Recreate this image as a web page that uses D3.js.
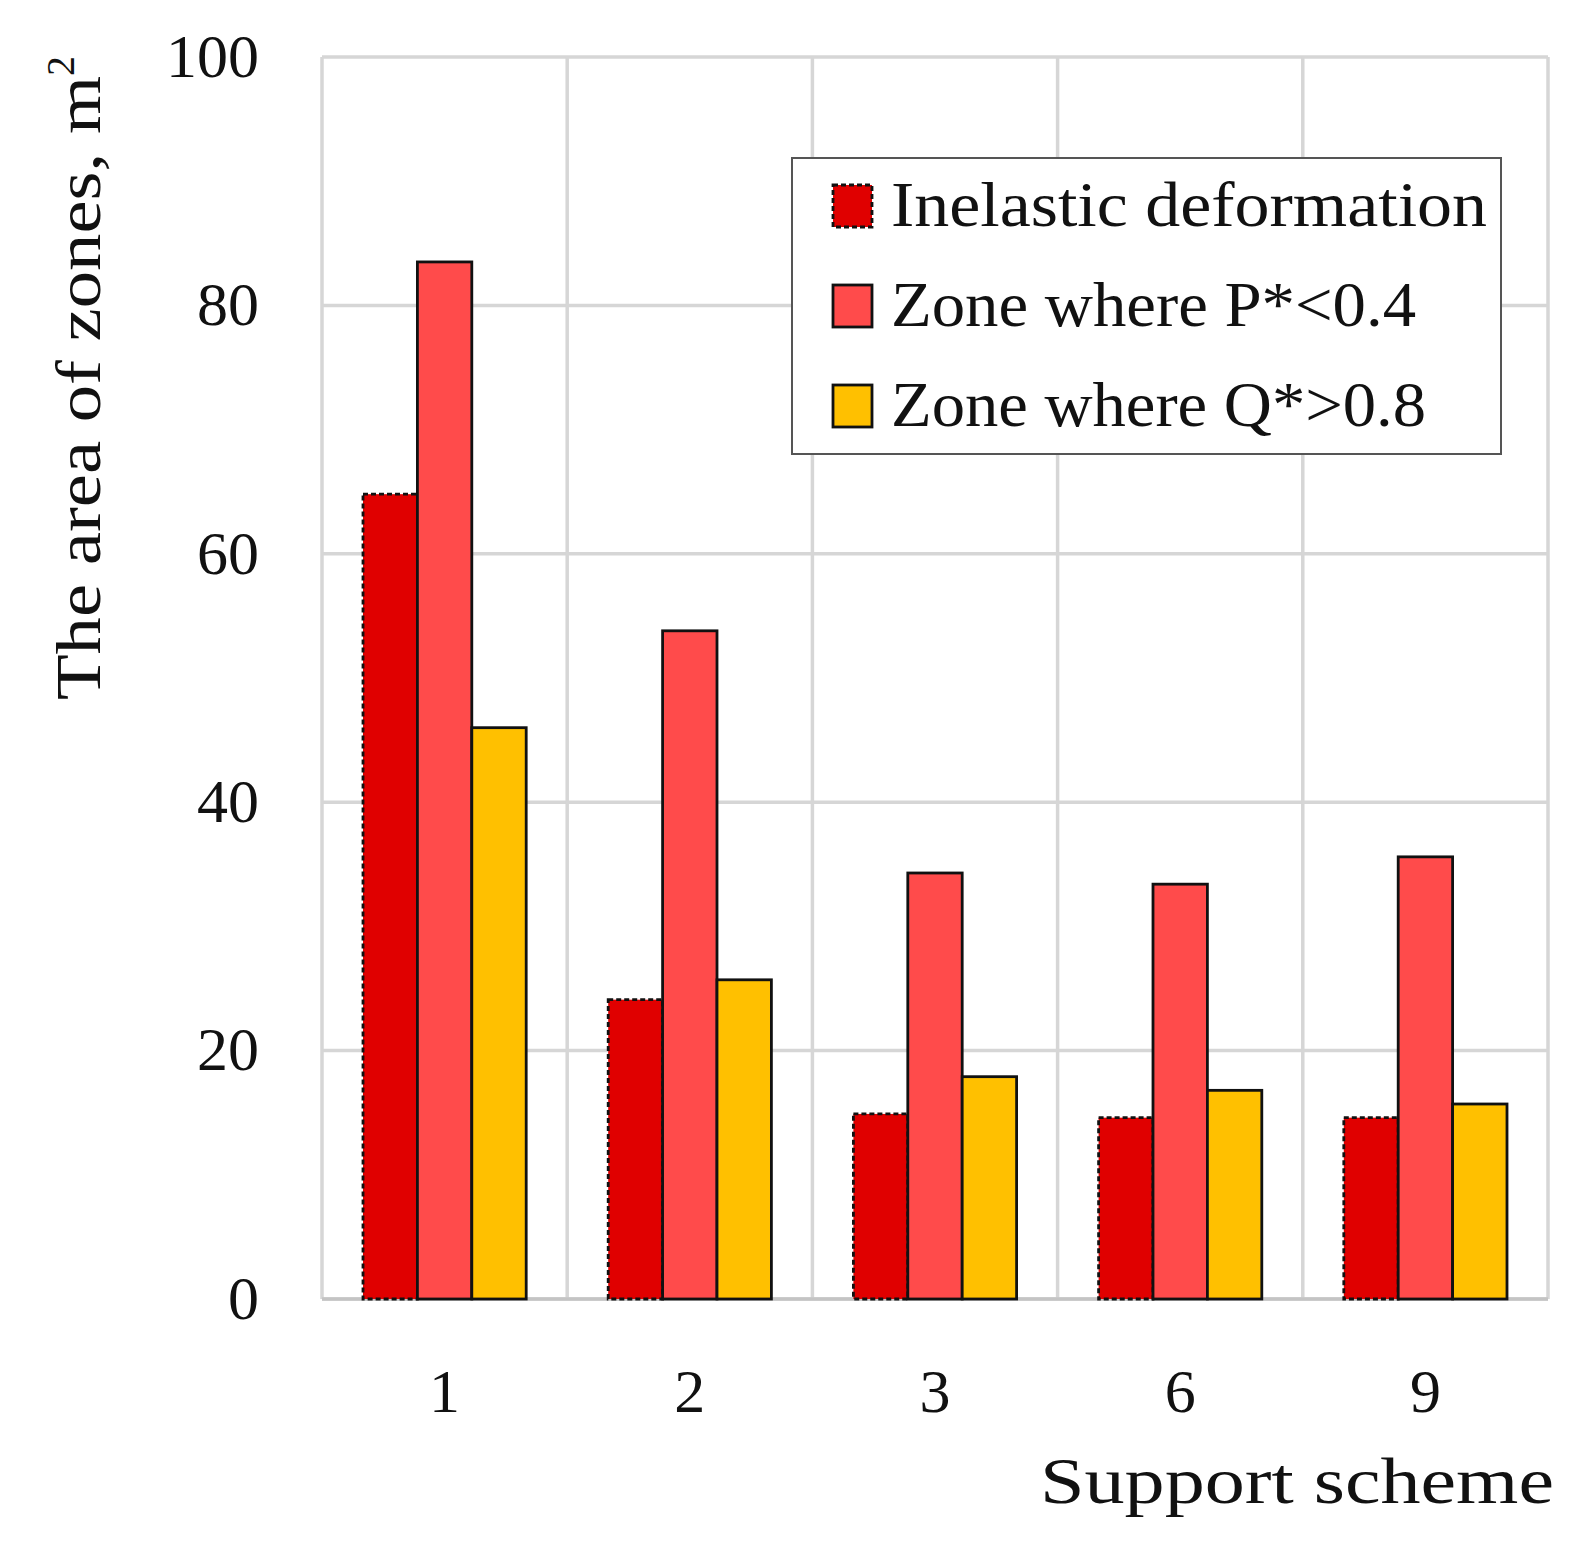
<!DOCTYPE html>
<html>
<head>
<meta charset="utf-8">
<script src="https://cdn.jsdelivr.net/npm/d3@7"></script>
<style>
  body { margin: 0; background: #fff; }
  svg text { font-family: "Liberation Serif", "DejaVu Serif", serif; fill: #111; }
</style>
</head>
<body>
<div id="chart"></div>
<script>
// ---- data ----
const schemes = ['1', '2', '3', '6', '9'];
const seriesNames = ['Inelastic deformation', 'Zone where P*<0.4', 'Zone where Q*>0.8'];
const inelastic = [64.8, 24.1, 14.9, 14.6, 14.6];
const zoneP = [83.5, 53.8, 34.3, 33.4, 35.6];
const zoneQ = [46.0, 25.7, 17.9, 16.8, 15.7];
const yTicks = [0, 20, 40, 60, 80, 100];

const seriesValues = [inelastic, zoneP, zoneQ];
const seriesColors = ['#e00000', '#ff4b4b', '#ffc000'];

// ---- layout ----
const W = 1595, H = 1555;
const plot = { left: 322, right: 1548, top: 57, bottom: 1299 };

const svg = d3.select('#chart').append('svg')
  .attr('width', W).attr('height', H);

const x = d3.scaleBand().domain(schemes).range([plot.left, plot.right]);
const x1 = d3.scaleBand().domain(d3.range(seriesNames.length))
  .range([41, x.bandwidth() - 41]);
const y = d3.scaleLinear().domain([0, 100]).range([plot.bottom, plot.top]);

// grid
const grid = svg.append('g').attr('stroke', '#d6d6d6').attr('stroke-width', 3.5);
yTicks.forEach(t => {
  grid.append('line')
    .attr('x1', plot.left).attr('x2', plot.right)
    .attr('y1', y(t)).attr('y2', y(t));
});
schemes.forEach(s => {
  grid.append('line')
    .attr('x1', x(s)).attr('x2', x(s))
    .attr('y1', plot.top).attr('y2', plot.bottom);
});
grid.append('line')
  .attr('x1', plot.right).attr('x2', plot.right)
  .attr('y1', plot.top).attr('y2', plot.bottom);
// baseline a touch darker
svg.append('line')
  .attr('x1', plot.left).attr('x2', plot.right)
  .attr('y1', y(0)).attr('y2', y(0))
  .attr('stroke', '#c4c4c4').attr('stroke-width', 3.5);

// bars
seriesNames.forEach((name, si) => {
  svg.append('g').selectAll('rect')
    .data(schemes.map((s, i) => ({ s, v: seriesValues[si][i] })))
    .join('rect')
    .attr('x', d => x(d.s) + x1(si))
    .attr('y', d => y(d.v))
    .attr('width', x1.bandwidth())
    .attr('height', d => y(0) - y(d.v))
    .attr('fill', seriesColors[si])
    .attr('stroke', '#111')
    .attr('stroke-width', 2.8)
    .attr('stroke-dasharray', si === 0 ? '5,3' : null);
});

// y tick labels
svg.append('g').selectAll('text')
  .data(yTicks)
  .join('text')
  .attr('x', 259)
  .attr('y', d => y(d) - 2)
  .attr('dy', '0.35em')
  .attr('text-anchor', 'end')
  .attr('font-size', 62)
  .text(d => d);

// x tick labels
svg.append('g').selectAll('text')
  .data(schemes)
  .join('text')
  .attr('x', d => x(d) + x.bandwidth() / 2)
  .attr('y', 1412)
  .attr('text-anchor', 'middle')
  .attr('font-size', 62)
  .text(d => d);

// x axis title
svg.append('text')
  .attr('x', 1040).attr('y', 1503)
  .attr('font-size', 66)
  .attr('textLength', 514)
  .attr('lengthAdjust', 'spacingAndGlyphs')
  .text('Support scheme');

// y axis title
const yTitle = svg.append('text')
  .attr('transform', 'translate(100,700) rotate(-90)')
  .attr('font-size', 64);
yTitle.append('tspan')
  .attr('textLength', 624)
  .attr('lengthAdjust', 'spacingAndGlyphs')
  .text('The area of zones, m');
yTitle.append('tspan')
  .attr('dy', -26).attr('font-size', 40)
  .text('2');

// legend
const legend = svg.append('g');
legend.append('rect')
  .attr('x', 792).attr('y', 158)
  .attr('width', 709).attr('height', 296)
  .attr('fill', '#fff')
  .attr('stroke', '#555').attr('stroke-width', 2);

const legendEnds = [1487, 1416, 1426];
seriesNames.forEach((name, i) => {
  const cy = 206 + i * 100;
  legend.append('rect')
    .attr('x', 833).attr('y', cy - 21)
    .attr('width', 39).attr('height', 42)
    .attr('fill', seriesColors[i])
    .attr('stroke', '#111').attr('stroke-width', 2.8)
    .attr('stroke-dasharray', i === 0 ? '5,3' : null);
  legend.append('text')
    .attr('x', 891).attr('y', cy + 20)
    .attr('font-size', 64)
    .attr('textLength', legendEnds[i] - 891)
    .attr('lengthAdjust', 'spacingAndGlyphs')
    .text(name);
});
</script>
</body>
</html>
